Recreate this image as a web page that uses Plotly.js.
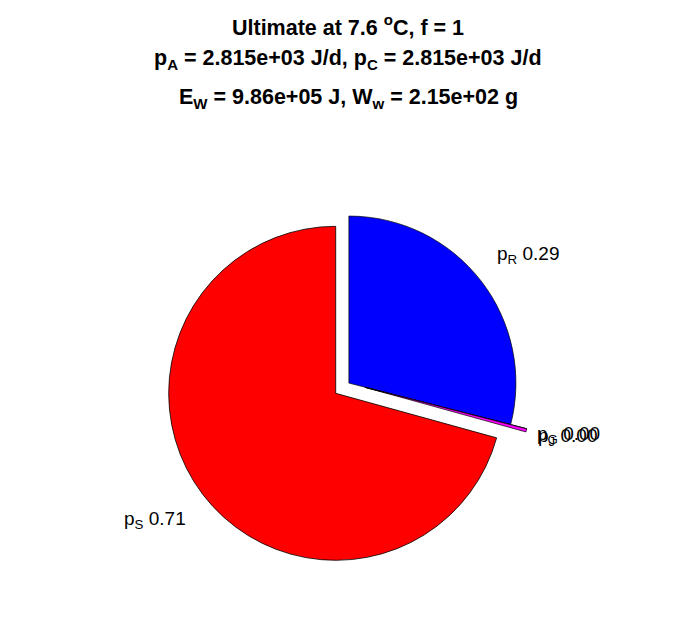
<!DOCTYPE html>
<html><head><meta charset="utf-8">
<script src="https://cdn.plot.ly/plotly-3.0.1.min.js"></script>
<style>html,body{margin:0;padding:0;background:#fff}</style>
</head><body><div id="chart" style="width:696px;height:618px"></div>
<script>
// ---- data (clockwise from 12 o'clock) ----
const sliceNames  = ['p<sub>R</sub>', 'p<sub>G</sub>', 'p<sub>J</sub>', 'p<sub>S</sub>'];
const sliceValues = [0.290, 0.0, 0.003, 0.707];
const sliceColors = ['#0000ff', '#00ff00', '#ff00ff', '#ff0000'];
const inExplodedGroup = [true, true, true, false];
const slicePull = [0, 0.1, 0.1, 0];
const titleLines = [
  '<b>Ultimate at 7.6 <sup>o</sup>C, f = 1</b>',
  '<b>p<sub>A</sub> = 2.815e+03 J/d, p<sub>C</sub> = 2.815e+03 J/d</b>',
  '<b>E<sub>W</sub> = 9.86e+05 J, W<sub>w</sub> = 2.15e+02 g</b>'
];

// ---- layout geometry ----
const W = 696, H = 618;
const CX = 335.7, CY = 393.3, R = 167;   // pie centre / radius in px
const GROUP_EXPLODE = 0.1;               // fraction of radius
const LABEL_KX = 1.36, LABEL_KY = 1.25;  // label distance in radii
const FONT = 'Liberation Sans, Arial, Helvetica, sans-serif';

const total = sliceValues.reduce((a, b) => a + b, 0);
const mids = [];
let acc = 0;
sliceValues.forEach(v => { const f = v / total; mids.push((acc + f / 2) * 2 * Math.PI); acc += f; });
const dirOf = a => [Math.sin(a), -Math.cos(a)]; // clockwise from top, screen px (y down)

// group explode direction = bisector of the largest exploded slice
let gi = -1;
sliceValues.forEach((v, i) => { if (inExplodedGroup[i] && (gi < 0 || v > sliceValues[gi])) gi = i; });
const gd = dirOf(mids[gi]);
const GX = CX + GROUP_EXPLODE * R * gd[0], GY = CY + GROUP_EXPLODE * R * gd[1];

function domainFor(cx, cy, half) {
  return { x: [(cx - half) / W, (cx + half) / W], y: [1 - (cy + half) / H, 1 - (cy - half) / H] };
}
const maxPull = Math.max(...slicePull);

const traceBase = {
  type: 'pie', values: sliceValues, sort: false, direction: 'clockwise', rotation: 0,
  textinfo: 'none', hoverinfo: 'none', showlegend: false
};
const traceA = Object.assign({}, traceBase, {
  domain: domainFor(CX, CY, R),
  marker: {
    colors: sliceColors.map((c, i) => inExplodedGroup[i] ? 'rgba(0,0,0,0)' : c),
    line: { color: 'black', width: sliceColors.map((c, i) => inExplodedGroup[i] ? 0 : 0.8) }
  }
});
const traceB = Object.assign({}, traceBase, {
  domain: domainFor(GX, GY, R * (1 + maxPull)),
  pull: slicePull,
  marker: {
    colors: sliceColors.map((c, i) => inExplodedGroup[i] ? c : 'rgba(0,0,0,0)'),
    line: { color: 'black', width: sliceColors.map((c, i) => inExplodedGroup[i] ? 0.7 : 0) }
  }
});

const annotations = [];
sliceValues.forEach((v, i) => {
  const d = dirOf(mids[i]);
  const bx = inExplodedGroup[i] ? GX : CX;
  const by = inExplodedGroup[i] ? GY : CY;
  annotations.push({
    xref: 'paper', yref: 'paper',
    x: (bx + LABEL_KX * R * d[0]) / W, y: 1 - (by + LABEL_KY * R * d[1]) / H,
    xanchor: 'center', yanchor: 'middle', showarrow: false,
    text: sliceNames[i] + ' ' + (v / total).toFixed(2),
    font: { family: FONT, size: 19, color: 'black' }
  });
});
const titleY = [60, 98];
[titleLines[1], titleLines[2]].forEach((t, j) => annotations.push({
  xref: 'paper', yref: 'paper', x: 0.5, y: 1 - titleY[j] / H, xanchor: 'center', yanchor: 'middle',
  showarrow: false, text: t,
  font: { family: FONT, size: 21.5, color: 'black' }
}));

const layout = {
  width: W, height: H,
  margin: { l: 0, r: 0, t: 0, b: 0 },
  paper_bgcolor: 'white', plot_bgcolor: 'white',
  title: { text: titleLines[0], x: 0.5, xref: 'paper', xanchor: 'center', y: 1 - 27 / H, yanchor: 'middle',
           font: { family: FONT, size: 21.5, color: 'black' } },
  annotations: annotations,
  showlegend: false
};
Plotly.newPlot('chart', [traceA, traceB], layout, { staticPlot: true, displayModeBar: false });
</script></body></html>
